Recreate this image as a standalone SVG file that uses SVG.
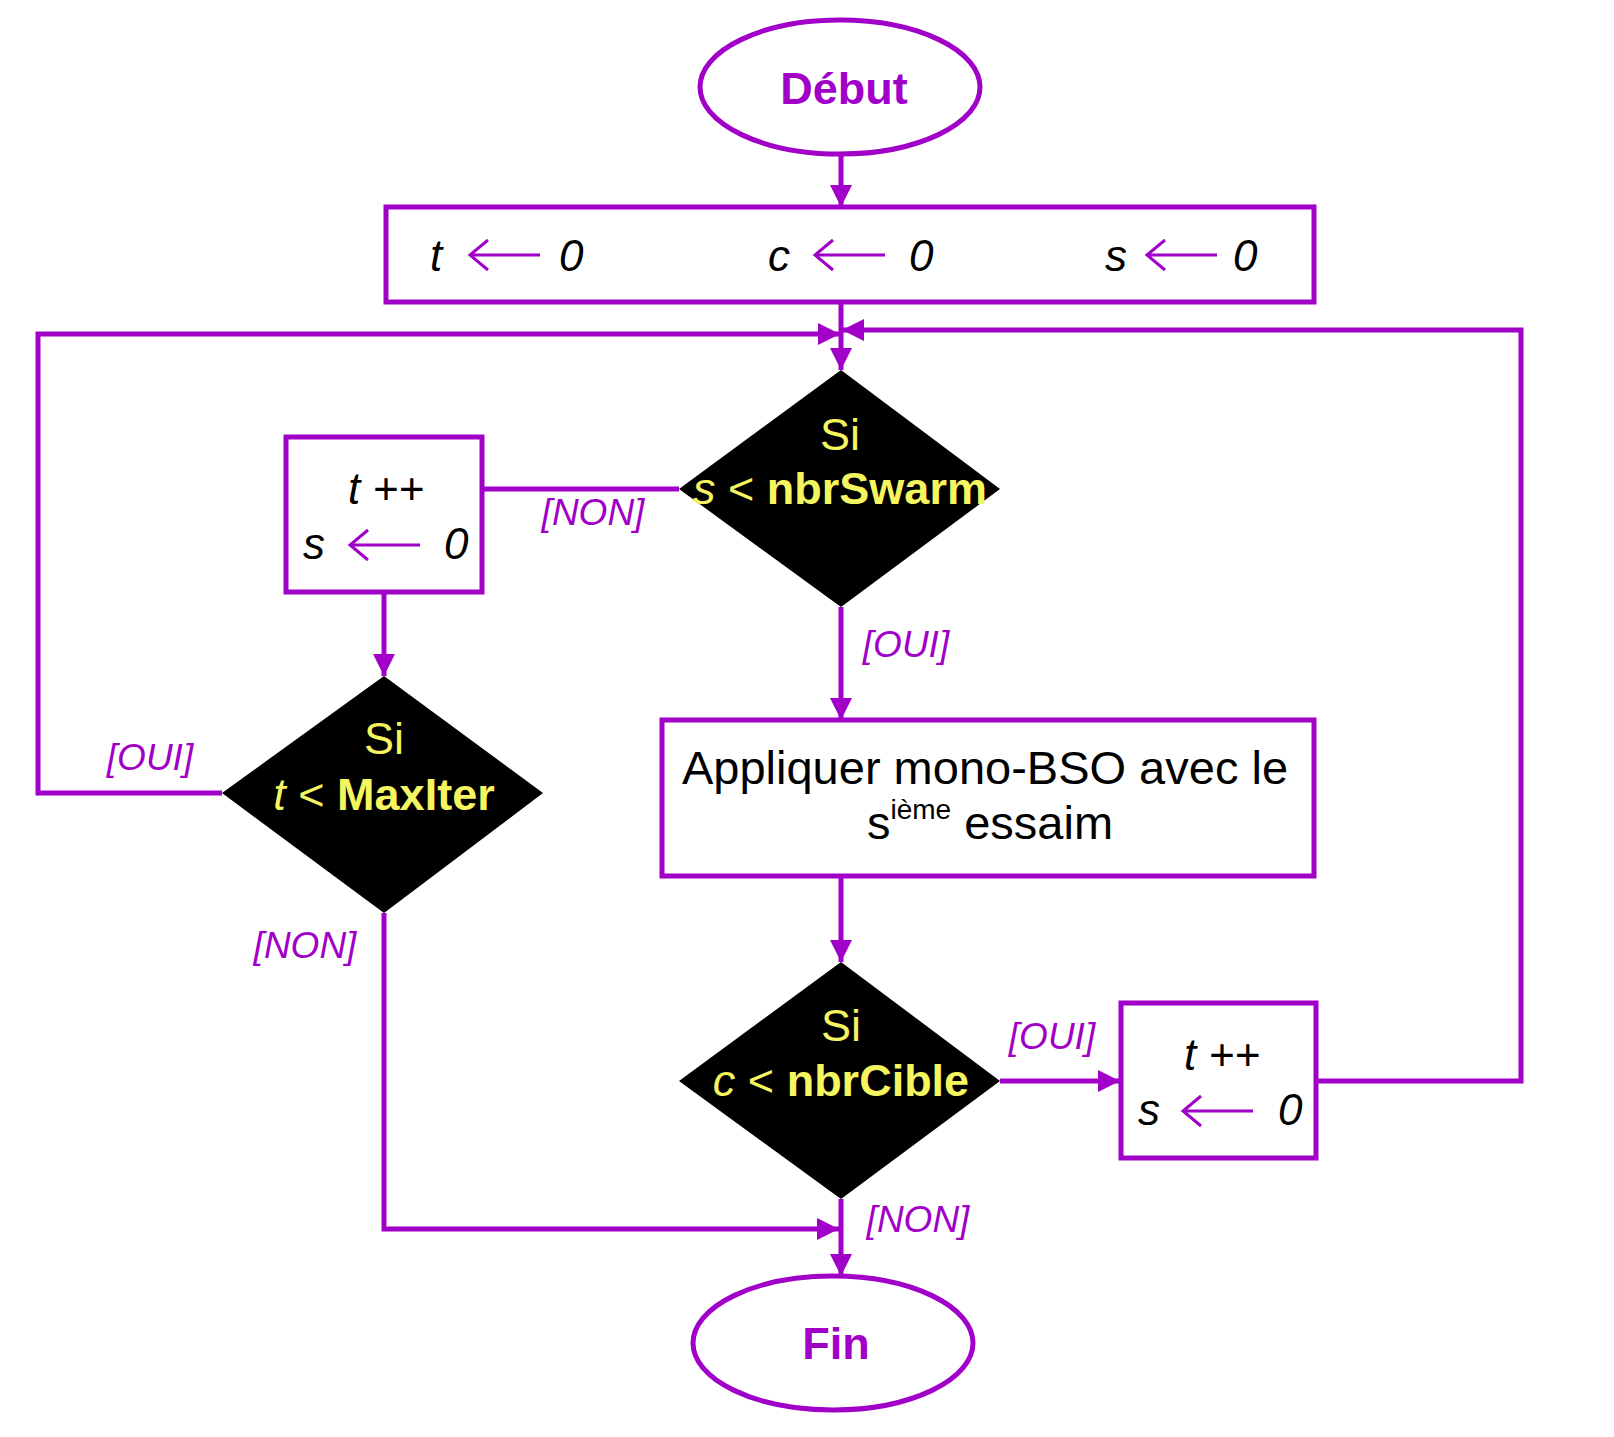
<svg xmlns="http://www.w3.org/2000/svg" width="1614" height="1437" viewBox="0 0 1614 1437">
<defs>
<marker id="ah" viewBox="0 0 20 20" refX="20" refY="10" markerWidth="22" markerHeight="22" markerUnits="userSpaceOnUse" orient="auto">
<path d="M0,0 L20,10 L0,20 z" fill="#A000C8"/>
</marker>
<style>
.box{fill:#fff;stroke:#A000C8;stroke-width:5}
.dia{fill:#000;stroke:none}
.con{fill:none;stroke:#A000C8;stroke-width:5}
.arr{fill:none;stroke:#A000C8;stroke-width:5;marker-end:url(#ah)}
.sa{fill:none;stroke:#A000C8;stroke-width:3}
.term{font-family:"Liberation Sans",Arial,sans-serif;font-weight:bold;font-size:45px;fill:#A000C8;text-anchor:middle}
.it{font-family:"Liberation Sans",Arial,sans-serif;font-style:italic;font-size:44px;fill:#000}
.itc{font-family:"Liberation Sans",Arial,sans-serif;font-style:italic;font-size:44px;fill:#000;text-anchor:middle}
.lbl{font-family:"Liberation Sans",Arial,sans-serif;font-style:italic;font-size:37px;fill:#A000C8;text-anchor:middle}
.dt{font-family:"Liberation Sans",Arial,sans-serif;font-size:45px;fill:#F5F55F;text-anchor:middle}
.pt{font-family:"Liberation Sans",Arial,sans-serif;font-size:47px;fill:#000;text-anchor:middle}
</style>
</defs>
<rect width="1614" height="1437" fill="#fff"/>

<g id="connectors">
<line class="arr" x1="841" y1="155" x2="841" y2="207"/>
<line class="arr" x1="841" y1="302" x2="841" y2="370"/>
<line class="con" x1="679" y1="489" x2="481" y2="489"/>
<line class="arr" x1="384" y1="592" x2="384" y2="676"/>
<polyline class="arr" points="222,793 38,793 38,334 840,334"/>
<polyline class="arr" points="1316,1081 1521,1081 1521,330 842,330"/>
<line class="arr" x1="841" y1="607" x2="841" y2="720"/>
<line class="arr" x1="841" y1="876" x2="841" y2="962"/>
<line class="arr" x1="1000" y1="1081" x2="1120" y2="1081"/>
<line class="arr" x1="841" y1="1199" x2="841" y2="1276"/>
<polyline class="arr" points="384,913 384,1229 839,1229"/>
<text class="lbl" x="593" y="525">[NON]</text>
<text class="lbl" x="150" y="770">[OUI]</text>
<text class="lbl" x="906" y="657">[OUI]</text>
<text class="lbl" x="1052" y="1049">[OUI]</text>
<text class="lbl" x="918" y="1232">[NON]</text>
<text class="lbl" x="305" y="958">[NON]</text>
</g>

<g id="debut">
<ellipse class="box" cx="840" cy="87" rx="140" ry="67"/>
<text class="term" x="844" y="104">Début</text>
</g>

<g id="init">
<rect class="box" x="386" y="207" width="928" height="95"/>
<text class="it" x="430" y="271">t</text>
<path class="sa" d="M540,255 L470,255 M488,240 L470,255 L488,270"/>
<text class="it" x="559" y="271">0</text>
<text class="it" x="768" y="271">c</text>
<path class="sa" d="M885,255 L815,255 M833,240 L815,255 L833,270"/>
<text class="it" x="909" y="271">0</text>
<text class="it" x="1105" y="271">s</text>
<path class="sa" d="M1217,255 L1147,255 M1165,240 L1147,255 L1165,270"/>
<text class="it" x="1233" y="271">0</text>
</g>

<g id="cond-swarm">
<polygon class="dia" points="841,370 1000,489 841,607 679,489"/>
<text class="dt" x="840" y="450">Si</text>
<text class="dt" x="840" y="504"><tspan font-style="italic">s</tspan> &lt; <tspan font-weight="bold">nbrSwarm</tspan></text>
</g>

<g id="reset-left">
<rect class="box" x="286" y="437" width="196" height="155"/>
<text class="itc" x="386" y="504">t ++</text>
<text class="it" x="303" y="559">s</text>
<path class="sa" d="M420,545 L350,545 M368,530 L350,545 L368,560"/>
<text class="it" x="444" y="559">0</text>
</g>

<g id="cond-maxiter">
<polygon class="dia" points="384,676 543,793 384,913 222,793"/>
<text class="dt" x="384" y="754">Si</text>
<text class="dt" x="384" y="810"><tspan font-style="italic">t</tspan> &lt; <tspan font-weight="bold">MaxIter</tspan></text>
</g>

<g id="apply">
<rect class="box" x="662" y="720" width="652" height="156"/>
<text class="pt" x="985" y="784">Appliquer mono-BSO avec le</text>
<text class="pt" x="990" y="839">s<tspan font-size="28px" dy="-20">ième</tspan><tspan dy="20"> essaim</tspan></text>
</g>

<g id="cond-cible">
<polygon class="dia" points="841,962 1000,1081 841,1199 679,1081"/>
<text class="dt" x="841" y="1041">Si</text>
<text class="dt" x="841" y="1096"><tspan font-style="italic">c</tspan> &lt; <tspan font-weight="bold">nbrCible</tspan></text>
</g>

<g id="reset-right">
<rect class="box" x="1121" y="1003" width="195" height="155"/>
<text class="itc" x="1222" y="1070">t ++</text>
<text class="it" x="1138" y="1125">s</text>
<path class="sa" d="M1253,1111 L1183,1111 M1201,1096 L1183,1111 L1201,1126"/>
<text class="it" x="1278" y="1125">0</text>
</g>

<g id="fin">
<ellipse class="box" cx="833" cy="1343" rx="140" ry="67"/>
<text class="term" x="836" y="1359">Fin</text>
</g>
</svg>
